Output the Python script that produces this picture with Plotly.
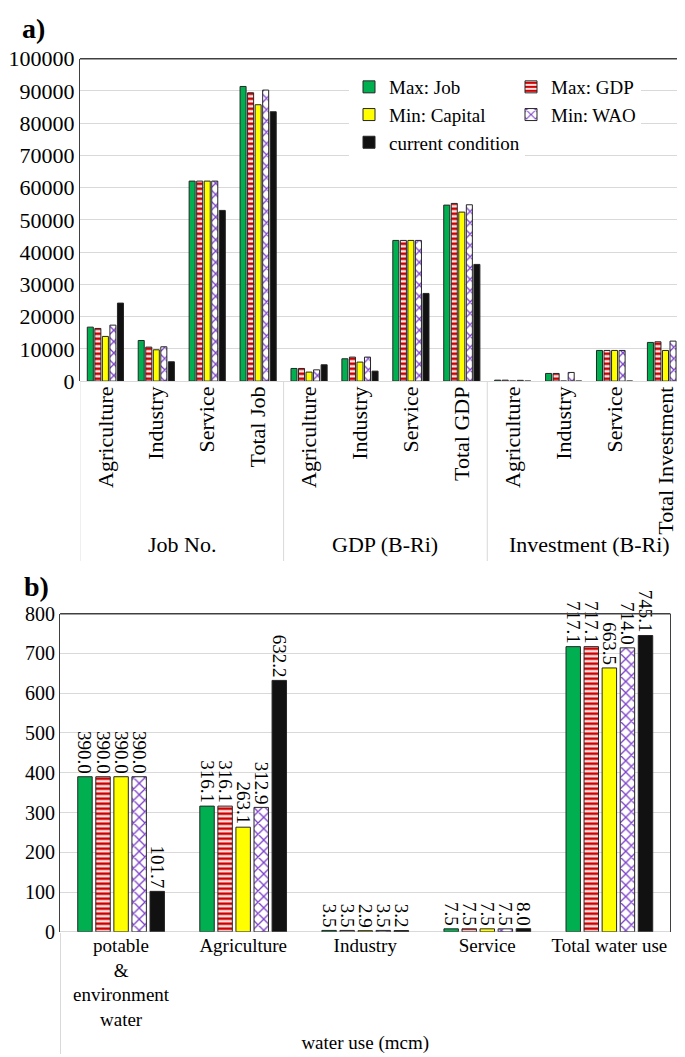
import plotly.graph_objects as go

# ---- chart a) : jobs, GDP and investment by sector ----
groups_a = ["Job No.", "GDP (B-Ri)", "Investment (B-Ri)"]
cats_a = ["Agriculture", "Industry", "Service", "Total Job",
          "Agriculture", "Industry", "Service", "Total GDP",
          "Agriculture", "Industry", "Service", "Total Investment"]

max_job_a = [16750, 12600, 62050, 91400, 3930, 6930, 43640, 54600, 300, 2380, 9510, 12000]
max_gdp_a = [16340, 10550, 62050, 89450, 3930, 7450, 43640, 55120, 300, 2380, 9510, 12200]
min_cap_a = [13860, 9720, 62050, 85730, 2800, 5900, 43640, 52430, 0, 0, 9510, 9510]
min_wao_a = [17370, 10650, 62050, 90280, 3500, 7450, 43640, 54700, 250, 2690, 9510, 12410]
current_a = [24200, 6000, 52950, 83560, 5070, 3100, 27200, 36200, 0, 0, 0, 0]

# ---- chart b) : water use ----
groups_b = ["water use (mcm)"] * 5
cats_b = ["potable<br>&<br>environment<br>water", "Agriculture", "Industry", "Service", "Total water use"]

max_job_b = [390.0, 316.1, 3.5, 7.5, 717.1]
max_gdp_b = [390.0, 316.1, 3.5, 7.5, 717.1]
min_cap_b = [390.0, 263.1, 2.9, 7.5, 663.5]
min_wao_b = [390.0, 312.9, 3.5, 7.5, 714.0]
current_b = [101.7, 632.2, 3.2, 8.0, 745.1]

FONT = "Liberation Serif"
EDGE = "#262626"
GRID = "#d9d9d9"

# name, values a, values b, marker style, which legend column
series = [
    ("Max: Job", max_job_a, max_job_b, dict(color="#00B050"), "legend"),
    ("Max: GDP", max_gdp_a, max_gdp_b,
     dict(color="#D00000", pattern=dict(shape="-", fgcolor="white", bgcolor="#D00000",
                                        size=5, solidity=0.45, fillmode="replace")), "legend2"),
    ("Min: Capital", min_cap_a, min_cap_b, dict(color="#FFFF00"), "legend"),
    ("Min: WAO", min_wao_a, min_wao_b,
     dict(color="white", pattern=dict(shape="x", fgcolor="#7B3FC8", bgcolor="white",
                                      size=8, solidity=0.3, fillmode="replace")), "legend2"),
    ("current condition", current_a, current_b, dict(color="#111111"), "legend"),
]

# top chart uses index positions so the two label levels can be placed freely
pos_a = list(range(len(cats_a)))
group_size = len(cats_a) // len(groups_a)

fig = go.Figure()

for name, vals_a, vals_b, mk, leg in series:
    fig.add_trace(go.Bar(
        x=pos_a, y=vals_a, name=name, legend=leg,
        marker=dict(line=dict(color=EDGE, width=1), **mk),
        xaxis="x", yaxis="y",
    ))
    fig.add_trace(go.Bar(
        x=[groups_b, cats_b], y=vals_b, name=name, showlegend=False,
        marker=dict(line=dict(color=EDGE, width=1), **mk),
        text=[f"{v:.1f}" for v in vals_b], textposition="outside", textangle=90,
        constraintext="none", cliponaxis=False,
        textfont=dict(family=FONT, size=19, color="black"),
        xaxis="x2", yaxis="y2",
    ))

yaxis_common = dict(
    showgrid=True, gridcolor=GRID, gridwidth=1,
    zeroline=True, zerolinecolor=GRID, zerolinewidth=1,
    showline=True, mirror=True, linecolor="#404040", linewidth=1,
    tickformat="d", ticks="", automargin=False,
)
legend_common = dict(
    orientation="v", yanchor="top", xanchor="left", bgcolor="white",
    font=dict(family=FONT, size=19, color="black"), itemwidth=30,
)

fig.update_layout(
    width=685, height=1057,
    margin=dict(l=0, r=0, t=0, b=0),
    paper_bgcolor="white", plot_bgcolor="white",
    font=dict(family=FONT, size=19, color="black"),
    barmode="group", bargap=0.26, bargroupgap=0.2,
    xaxis=dict(domain=[0.105, 0.997], anchor="y", range=[-0.5, len(cats_a) - 0.5],
               tickmode="array", tickvals=pos_a, ticktext=cats_a, tickangle=-90,
               tickfont=dict(family=FONT, size=22, color="black"),
               showgrid=False, zeroline=False, showline=False, ticks="", automargin=False),
    yaxis=dict(domain=[0.647, 0.952], anchor="x", range=[0, 100000], dtick=10000,
               tickfont=dict(family=FONT, size=22, color="black"), **yaxis_common),
    xaxis2=dict(domain=[0.076, 0.967], anchor="y2", type="multicategory", tickangle=0,
                showdividers=True, dividercolor=GRID, dividerwidth=1,
                tickfont=dict(family=FONT, size=19, color="black"),
                showgrid=False, showline=False, ticks="", automargin=False),
    yaxis2=dict(domain=[0.126, 0.427], anchor="x2", range=[0, 800], dtick=100,
                tickfont=dict(family=FONT, size=20, color="black"), **yaxis_common),
    legend=dict(x=341 / 685, y=1 - 60 / 1057, **legend_common),
    legend2=dict(x=503 / 685, y=1 - 60 / 1057, **legend_common),
)

# top frame lines of both plot areas
for xr, yr in (("x domain", "y domain"), ("x2 domain", "y2 domain")):
    fig.add_shape(type="line", xref=xr, yref=yr, x0=0, x1=1, y0=1, y1=1,
                  line=dict(color="#404040", width=1.5))

# group dividers and group labels under chart a)
for g, label in enumerate(groups_a):
    start = g * group_size - 0.5
    fig.add_shape(type="line", xref="x", yref="paper", x0=start, x1=start,
                  y0=1 - 373 / 1057, y1=1 - 553 / 1057, line=dict(color=GRID, width=1))
    fig.add_annotation(text=label, xref="x", yref="paper", x=start + group_size / 2,
                       y=1 - 536 / 1057, yanchor="middle", showarrow=False,
                       font=dict(family=FONT, size=22, color="black"))
end = len(cats_a) - 0.5
fig.add_shape(type="line", xref="x", yref="paper", x0=end, x1=end,
              y0=1 - 373 / 1057, y1=1 - 553 / 1057, line=dict(color=GRID, width=1))

# panel letters
fig.add_annotation(text="<b>a)</b>", x=12 / 685, y=1 - 20 / 1057, xref="paper", yref="paper",
                   xanchor="left", yanchor="middle", showarrow=False,
                   font=dict(family=FONT, size=28, color="black"))
fig.add_annotation(text="<b>b)</b>", x=14 / 685, y=1 - 578 / 1057, xref="paper", yref="paper",
                   xanchor="left", yanchor="middle", showarrow=False,
                   font=dict(family=FONT, size=28, color="black"))

fig.write_html("out.html")
